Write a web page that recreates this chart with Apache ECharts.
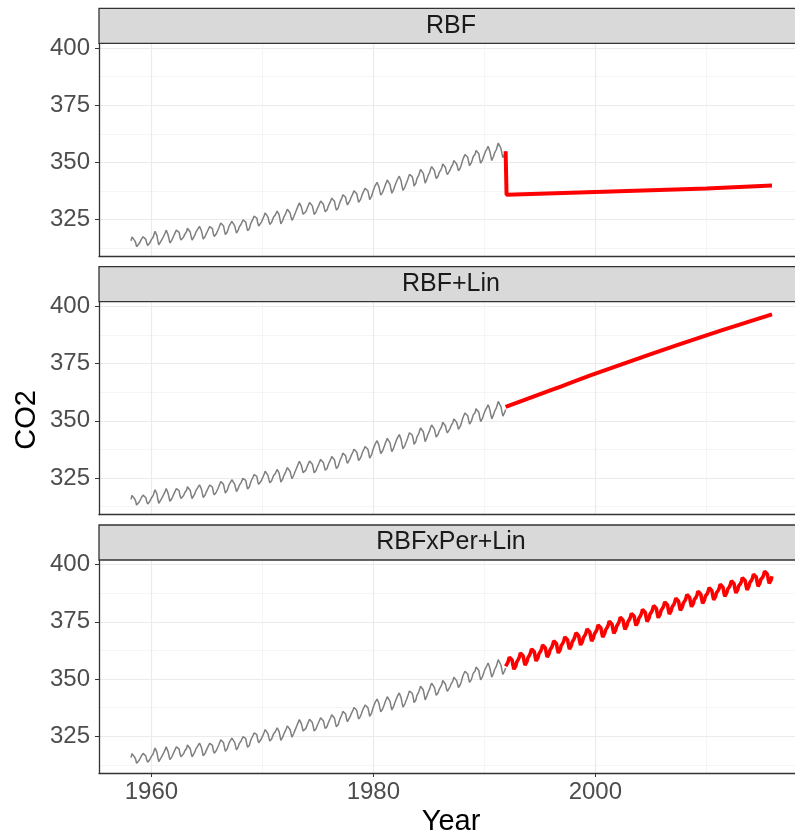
<!DOCTYPE html>
<html>
<head>
<meta charset="utf-8">
<script src="https://cdn.jsdelivr.net/npm/echarts@6/dist/echarts.min.js"></script>
<style>
  html, body { margin: 0; padding: 0; background: #fff; }
  #main { width: 795px; height: 836px; }
</style>
</head>
<body>
<div id="main"></div>
<script>
// 面板名称
var panelNames = ['RBF', 'RBF+Lin', 'RBFxPer+Lin'];

// 观测值 (月度, 1958年3月 - 1991年12月)
var obsStart = 1958 + 2 / 12;
var obsValues = [
  315.71, 317.45, 317.50, 317.10, 315.86, 314.93, 313.20, 312.66, 313.33, 314.67,
  315.42, 316.31, 316.50, 317.56, 318.13, 318.00, 316.39, 314.65, 313.68, 313.18, 314.66, 315.43,
  316.27, 316.81, 317.42, 318.87, 319.87, 319.43, 318.01, 315.74, 314.00, 313.68, 314.84, 316.03,
  316.73, 317.54, 318.38, 319.31, 320.42, 319.61, 318.42, 316.63, 314.83, 315.16, 315.94, 316.85,
  317.78, 318.40, 319.53, 320.42, 320.85, 320.45, 319.45, 317.25, 316.11, 315.27, 316.53, 317.53,
  318.58, 318.92, 319.70, 321.22, 322.08, 321.31, 319.58, 317.61, 316.05, 315.83, 316.91, 318.20,
  319.41, 320.07, 320.74, 321.40, 322.06, 321.73, 320.27, 318.54, 316.54, 316.71, 317.53, 318.55,
  319.27, 320.28, 320.73, 321.97, 322.00, 321.71, 321.05, 318.71, 317.66, 317.14, 318.70, 319.25,
  320.46, 321.43, 322.23, 323.54, 323.91, 323.59, 322.24, 320.20, 318.48, 317.94, 319.63, 320.87,
  322.17, 322.34, 322.88, 324.25, 324.83, 323.93, 322.38, 320.76, 319.10, 319.24, 320.56, 321.80,
  322.40, 322.99, 323.73, 324.86, 325.40, 325.20, 323.98, 321.95, 320.18, 320.09, 321.16, 322.74,
  323.83, 324.26, 325.47, 326.50, 327.21, 326.54, 325.72, 323.50, 322.22, 321.62, 322.69, 323.95,
  324.89, 325.82, 326.77, 327.97, 327.91, 327.50, 326.18, 324.53, 322.93, 322.90, 323.85, 324.96,
  326.01, 326.51, 327.01, 327.62, 328.76, 328.40, 327.20, 325.27, 323.20, 323.40, 324.63, 325.85,
  326.60, 327.47, 327.58, 329.56, 329.90, 328.92, 327.88, 326.16, 324.68, 325.04, 326.34, 327.39,
  328.37, 329.40, 330.14, 331.33, 332.31, 331.90, 330.70, 329.15, 327.35, 327.02, 327.99, 328.48,
  329.18, 330.55, 331.32, 332.48, 332.92, 332.08, 331.01, 329.23, 327.27, 327.21, 328.29, 329.41,
  330.23, 331.25, 331.87, 333.14, 333.80, 333.43, 331.73, 329.90, 328.40, 328.17, 329.32, 330.59,
  331.58, 332.39, 333.33, 334.41, 334.71, 334.17, 332.89, 330.77, 329.14, 328.78, 330.14, 331.52,
  332.75, 333.24, 334.53, 335.90, 336.57, 336.10, 334.76, 332.59, 331.42, 330.98, 332.24, 333.68,
  334.80, 335.22, 336.47, 337.59, 337.84, 337.72, 336.37, 334.51, 332.60, 332.38, 333.75, 334.78,
  336.05, 336.59, 337.79, 338.71, 339.30, 339.12, 337.56, 335.92, 333.75, 333.70, 335.12, 336.56,
  337.84, 338.19, 339.91, 340.60, 341.29, 341.00, 339.39, 337.43, 335.72, 335.84, 336.93, 338.04,
  339.06, 340.30, 341.21, 342.33, 342.74, 342.08, 340.32, 338.26, 336.52, 336.68, 338.19, 339.44,
  340.57, 341.44, 342.53, 343.39, 343.96, 343.18, 341.88, 339.65, 337.81, 337.69, 339.09, 340.32,
  341.20, 342.35, 342.93, 344.77, 345.58, 345.14, 343.81, 342.21, 339.69, 339.82, 340.98, 342.82,
  343.52, 344.33, 345.11, 346.88, 347.25, 346.62, 345.22, 343.11, 340.90, 341.18, 342.80, 344.04,
  344.79, 345.82, 347.25, 348.17, 348.74, 348.07, 346.38, 344.51, 342.92, 342.62, 344.06, 345.38,
  346.11, 346.78, 347.68, 349.37, 350.03, 349.37, 347.76, 345.73, 344.68, 343.99, 345.48, 346.72,
  347.84, 348.29, 349.23, 350.80, 351.66, 351.07, 349.33, 347.92, 346.27, 346.18, 347.64, 348.78,
  350.25, 351.54, 352.05, 353.41, 354.04, 353.62, 352.22, 350.27, 348.55, 348.72, 349.91, 351.18,
  352.60, 352.92, 353.53, 355.26, 355.52, 354.97, 353.75, 351.52, 349.64, 349.83, 351.14, 352.37,
  353.50, 354.55, 355.23, 356.04, 357.00, 356.07, 354.67, 352.76, 350.82, 351.04, 352.69, 354.07,
  354.59, 355.63, 357.03, 358.48, 359.22, 358.12, 356.06, 353.92, 352.05, 352.11, 353.64, 354.89
];

// RBF 预测
var rbfYears = [1991.917, 1992.0, 2000, 2010, 2015.917];
var rbfValues = [354.89, 335.9, 337.1, 338.6, 339.9];

// RBF+Lin 预测
var linYears = [1991.917, 1996, 2000, 2005, 2010, 2013, 2015.917];
var linValues = [356.1, 363.4, 370.6, 379.1, 387.3, 392.0, 396.5];

// RBFxPer+Lin 预测 (月度, 1991年12月 - 2015年12月)
var perStart = 1991 + 11 / 12;
var perValues = [
  355.6,
  355.9, 357.0, 358.0, 359.6, 360.2, 359.7, 358.3, 356.0, 354.3, 354.3, 355.8, 357.4,
  357.7, 358.8, 359.8, 361.4, 362.0, 361.5, 360.1, 357.8, 356.1, 356.1, 357.6, 359.2,
  359.5, 360.6, 361.6, 363.2, 363.8, 363.3, 361.9, 359.6, 357.9, 357.9, 359.4, 361.0,
  361.2, 362.3, 363.3, 364.9, 365.5, 365.0, 363.6, 361.3, 359.6, 359.6, 361.1, 362.7,
  363.0, 364.1, 365.1, 366.7, 367.3, 366.8, 365.4, 363.1, 361.4, 361.4, 362.9, 364.5,
  364.7, 365.8, 366.8, 368.4, 369.0, 368.5, 367.1, 364.8, 363.1, 363.1, 364.6, 366.2,
  366.5, 367.6, 368.6, 370.2, 370.8, 370.3, 368.9, 366.6, 364.9, 364.9, 366.4, 368.0,
  368.2, 369.3, 370.3, 371.9, 372.5, 372.0, 370.6, 368.3, 366.6, 366.6, 368.1, 369.7,
  369.9, 371.0, 372.0, 373.6, 374.2, 373.7, 372.3, 370.0, 368.3, 368.3, 369.8, 371.4,
  371.6, 372.7, 373.7, 375.3, 375.9, 375.4, 374.0, 371.7, 370.0, 370.0, 371.5, 373.1,
  373.3, 374.4, 375.4, 377.0, 377.6, 377.1, 375.7, 373.4, 371.7, 371.7, 373.2, 374.8,
  375.0, 376.1, 377.1, 378.7, 379.3, 378.8, 377.4, 375.1, 373.4, 373.4, 374.9, 376.5,
  376.7, 377.8, 378.8, 380.4, 381.0, 380.5, 379.1, 376.8, 375.1, 375.1, 376.6, 378.2,
  378.4, 379.5, 380.5, 382.1, 382.7, 382.2, 380.8, 378.5, 376.8, 376.8, 378.3, 379.9,
  380.0, 381.1, 382.1, 383.7, 384.3, 383.8, 382.4, 380.1, 378.4, 378.4, 379.9, 381.5,
  381.6, 382.7, 383.7, 385.3, 385.9, 385.4, 384.0, 381.7, 380.0, 380.0, 381.5, 383.1,
  383.2, 384.3, 385.3, 386.9, 387.5, 387.0, 385.6, 383.3, 381.6, 381.6, 383.1, 384.7,
  384.7, 385.8, 386.8, 388.4, 389.0, 388.5, 387.1, 384.8, 383.1, 383.1, 384.6, 386.2,
  386.2, 387.3, 388.3, 389.9, 390.5, 390.0, 388.6, 386.3, 384.6, 384.6, 386.1, 387.7,
  387.7, 388.8, 389.8, 391.4, 392.0, 391.5, 390.1, 387.8, 386.1, 386.1, 387.6, 389.2,
  389.2, 390.3, 391.3, 392.9, 393.5, 393.0, 391.6, 389.3, 387.6, 387.6, 389.1, 390.7,
  390.6, 391.7, 392.7, 394.3, 394.9, 394.4, 393.0, 390.7, 389.0, 389.0, 390.5, 392.1,
  392.1, 393.2, 394.2, 395.8, 396.4, 395.9, 394.5, 392.2, 390.5, 390.5, 392.0, 393.6,
  393.4, 394.5, 395.5, 397.1, 397.7, 397.2, 395.8, 393.5, 391.8, 391.8, 393.3, 394.9
];

// 刻度
var xMajor = [1960, 1980, 2000];
var xMinor = [1970, 1990, 2010];
var yMajor = [325, 350, 375, 400];
var yMinor = [312.5, 337.5, 362.5, 387.5];

function monthly(start, values) {
  return values.map(function (v, i) { return [start + i / 12, v]; });
}
function pairs(xs, ys) {
  return xs.map(function (x, i) { return [x, ys[i]]; });
}
function plain(v) {
  return String(v);
}

var X_MIN = 1955.28, X_MAX = 2018.8;
var Y_MIN = 309.0, Y_MAX = 402.0;
var LEFT = 99, WIDTH = 705, HEIGHT = 213;
var gridTops = [43.3, 301.7, 560];
var stripH = 35;
var dark = '#333333';

var grids = [], xAxes = [], yAxes = [], series = [], graphics = [];

gridTops.forEach(function (top, i) {
  var last = i === gridTops.length - 1;
  grids.push({left: LEFT, top: top, width: WIDTH, height: HEIGHT, containLabel: false, outerBoundsMode: 'none'});

  // 主网格 + 坐标轴
  xAxes.push({
    gridIndex: i, type: 'value', min: X_MIN, max: X_MAX, position: 'bottom',
    axisLine: {show: true, onZero: false, lineStyle: {color: dark, width: 1.3}},
    axisTick: {show: last, customValues: xMajor, length: 4, lineStyle: {color: dark, width: 1}},
    axisLabel: {show: last, customValues: xMajor, formatter: plain, fontSize: 24, color: '#4d4d4d', margin: 7, fontFamily: 'Liberation Sans'},
    splitLine: {show: true, lineStyle: {color: '#ebebeb', width: 1.2}}
  });
  yAxes.push({
    gridIndex: i, type: 'value', min: Y_MIN, max: Y_MAX, position: 'left',
    axisLine: {show: true, onZero: false, lineStyle: {color: dark, width: 1.3}},
    axisTick: {show: true, customValues: yMajor, length: 4, lineStyle: {color: dark, width: 1}},
    axisLabel: {customValues: yMajor, formatter: plain, fontSize: 24, color: '#4d4d4d', margin: 9, fontFamily: 'Liberation Sans'},
    splitLine: {show: true, lineStyle: {color: '#ebebeb', width: 1.2}}
  });

  // 次网格
  xAxes.push({
    gridIndex: i, type: 'value', min: X_MIN, max: X_MAX, position: 'top',
    axisLine: {show: false}, axisTick: {show: false, customValues: xMinor},
    axisLabel: {show: false, customValues: xMinor},
    splitLine: {show: true, lineStyle: {color: '#f3f3f3', width: 0.8}}
  });
  yAxes.push({
    gridIndex: i, type: 'value', min: Y_MIN, max: Y_MAX, position: 'right',
    axisLine: {show: false}, axisTick: {show: false, customValues: yMinor},
    axisLabel: {show: false, customValues: yMinor},
    splitLine: {show: true, lineStyle: {color: '#f3f3f3', width: 0.8}}
  });

  // 观测值
  series.push({
    type: 'line', xAxisIndex: i * 2, yAxisIndex: i * 2,
    data: monthly(obsStart, obsValues),
    showSymbol: false, symbol: 'none', silent: true,
    lineStyle: {color: '#7f7f7f', width: 1.5}, z: 3
  });

  // 分面标题条
  graphics.push({
    type: 'rect', z: 10,
    shape: {x: LEFT, y: top - stripH, width: WIDTH, height: stripH},
    style: {fill: '#d9d9d9', stroke: dark, lineWidth: 1.3}
  });
  graphics.push({
    type: 'text', z: 11, x: 451, y: top - stripH / 2,
    style: {text: panelNames[i], fontSize: 25, fontFamily: 'Liberation Sans', fill: '#1a1a1a', align: 'center', verticalAlign: 'middle'}
  });
});

// 预测
var predData = [pairs(rbfYears, rbfValues), pairs(linYears, linValues), monthly(perStart, perValues)];
predData.forEach(function (d, i) {
  series.push({
    type: 'line', xAxisIndex: i * 2, yAxisIndex: i * 2,
    data: d, showSymbol: false, symbol: 'none', silent: true,
    smooth: i === 1 ? 0.3 : false,
    lineStyle: {color: '#ff0000', width: i === 2 ? 3.6 : 4}, z: 4
  });
});

// 轴标题
graphics.push({
  type: 'text', x: 451, y: 822,
  style: {text: 'Year', fontSize: 29, fontFamily: 'Liberation Sans', fill: '#000', align: 'center', verticalAlign: 'middle'}
});
graphics.push({
  type: 'text', x: 27, y: 420, rotation: Math.PI / 2,
  style: {text: 'CO2', fontSize: 29, fontFamily: 'Liberation Sans', fill: '#000', align: 'center', verticalAlign: 'middle'}
});

var myChart = echarts.init(document.getElementById('main'));
var option = {
  animation: false,
  backgroundColor: '#ffffff',
  grid: grids,
  xAxis: xAxes,
  yAxis: yAxes,
  series: series,
  graphic: graphics
};
myChart.setOption(option, true);
</script>
</body>
</html>
